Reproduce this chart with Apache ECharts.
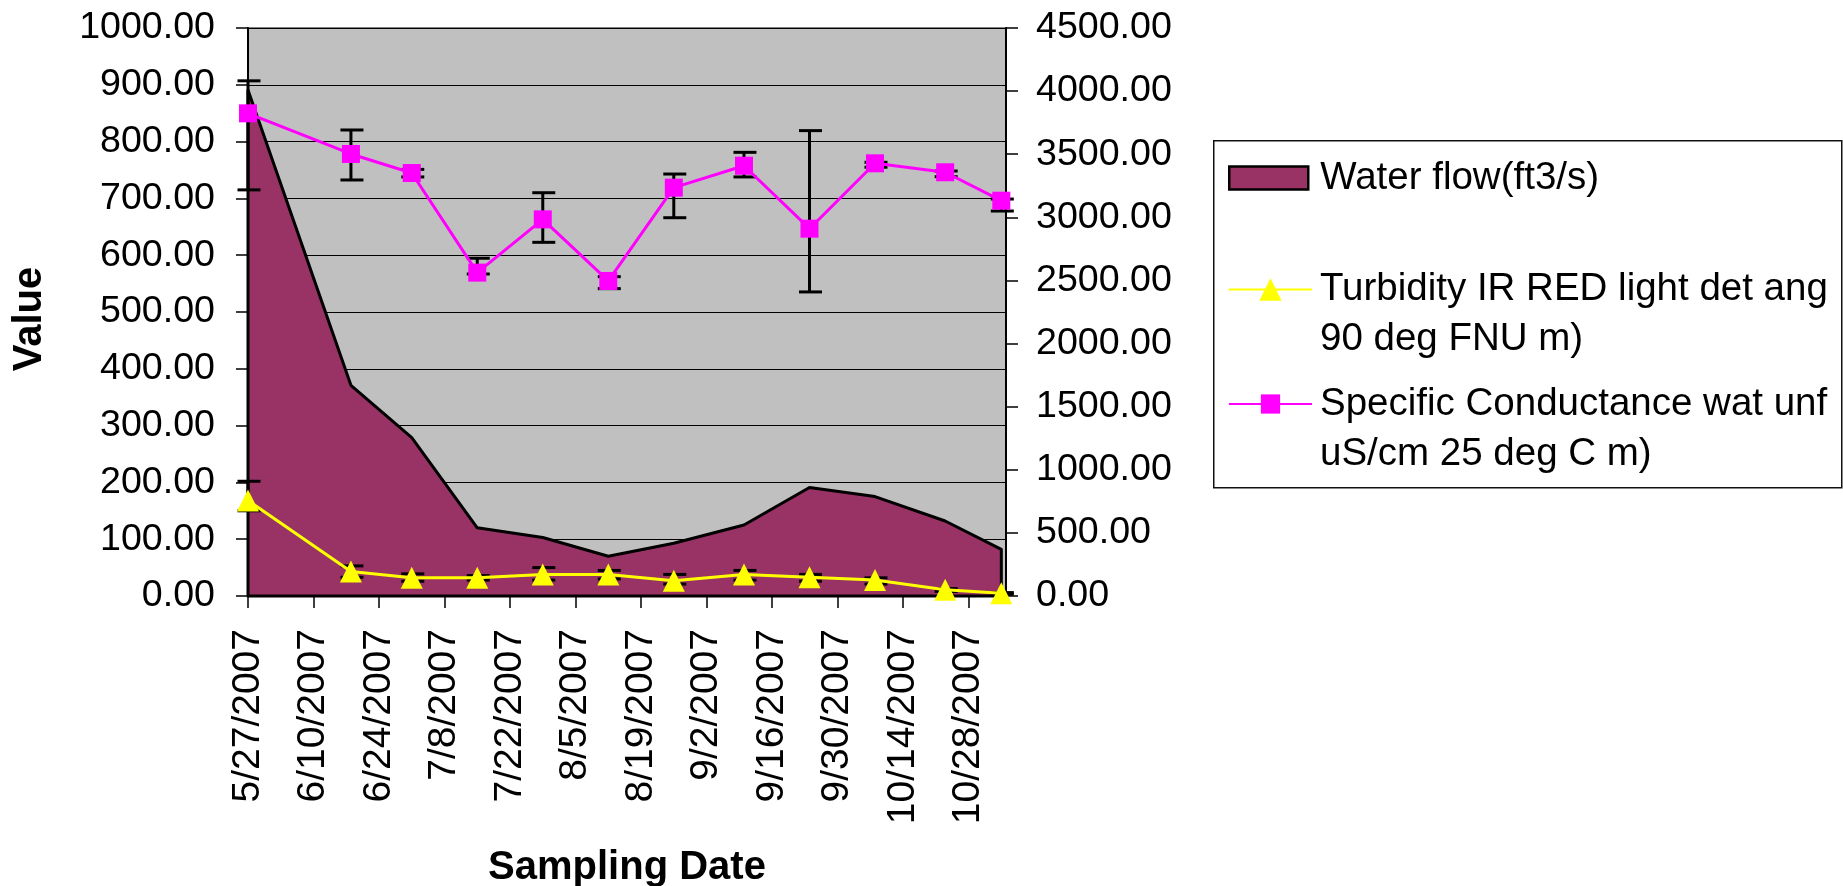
<!DOCTYPE html>
<html><head><meta charset="utf-8">
<script src="https://cdn.jsdelivr.net/npm/echarts@6/dist/echarts.min.js"></script>
<style>html,body{margin:0;padding:0;background:#fff}#c{width:1843px;height:886px}</style>
</head><body><div id="c"></div>
<script>
// ---- data ----
const sampleDates = ['2007-05-27','2007-06-18','2007-07-01','2007-07-15','2007-07-29','2007-08-12','2007-08-26','2007-09-10','2007-09-24','2007-10-08','2007-10-23','2007-11-04'];
const xTickLabels = ['5/27/2007','6/10/2007','6/24/2007','7/8/2007','7/22/2007','8/5/2007','8/19/2007','9/2/2007','9/16/2007','9/30/2007','10/14/2007','10/28/2007'];
const waterFlow      = [891, 371, 279, 120, 103, 70, 93, 125, 191, 175, 132, 82];
const waterFlowLow   = [715, null, null, null, null, null, null, null, null, null, null, null];
const waterFlowHigh  = [907, null, null, null, null, null, null, null, null, null, null, null];
const turbidity      = [168, 43, 32, 32, 38, 38, 27, 38, 33, 28, 11, 5];
const turbidityLow   = [150, 33, 26, 28, 28, 30, 21, 28, 26, 21, 8, 3];
const turbidityHigh  = [202, 53, 39, 36, 50, 45, 38, 45, 38, 32, 13, 6];
const conductance     = [3824, 3502, 3351, 2562, 2984, 2496, 3235, 3409, 2910, 3428, 3357, 3132];
const conductanceLow  = [null, 3296, 3320, 2551, 2802, 2435, 2997, 3320, 2409, 3397, 3322, 3050];
const conductanceHigh = [null, 3692, 3380, 2676, 3195, 2530, 3343, 3515, 3687, 3436, 3367, 3145];
const seriesNames = ['Water flow(ft3/s)', 'Turbidity IR RED light det ang 90 deg FNU m)', 'Specific Conductance wat unf uS/cm 25 deg C m)'];
const legendLines = [['Water flow(ft3/s)'], ['Turbidity IR RED light det ang', '90 deg FNU m)'], ['Specific Conductance wat unf', 'uS/cm 25 deg C m)']];
const axisTitles = {x: 'Sampling Date', y: 'Value'};

// ---- derived ----
const DAY = 864e5;
const t0 = Date.parse(sampleDates[0]);
const days = sampleDates.map(d => Math.round((Date.parse(d) - t0) / DAY));
const FONT = "'Liberation Sans', Arial, sans-serif";

function errData(low, high) {
  const out = [];
  low.forEach((l, i) => { if (l != null && high[i] != null) out.push([days[i], l, high[i]]); });
  return out;
}
function errSeries(low, high, yIdx) {
  return {
    type: 'custom', yAxisIndex: yIdx, z: 3, silent: true, clip: false,
    data: errData(low, high),
    renderItem: (params, api) => {
      const x = api.value(0);
      const lo = api.coord([x, api.value(1)]);
      const hi = api.coord([x, api.value(2)]);
      const cw = 11.5, off = 1;
      const st = {stroke: '#000', lineWidth: 3};
      return {type: 'group', children: [
        {type: 'line', shape: {x1: lo[0], y1: lo[1], x2: hi[0], y2: hi[1]}, style: st},
        {type: 'line', shape: {x1: lo[0] - cw + off, y1: lo[1], x2: lo[0] + cw + off, y2: lo[1]}, style: st},
        {type: 'line', shape: {x1: hi[0] - cw + off, y1: hi[1], x2: hi[0] + cw + off, y2: hi[1]}, style: st}
      ]};
    }
  };
}

const chart = echarts.init(document.getElementById('c'), null, {renderer: 'canvas'});
const legendText = pad => ({fontSize: 38.5, fontFamily: FONT, color: '#000', lineHeight: 50, padding: [0, 0, 0, pad]});

chart.setOption({
  animation: false,
  backgroundColor: '#fff',
  grid: {left: 248, right: 837, top: 28, bottom: 290, show: true, backgroundColor: '#c0c0c0', borderColor: '#808080', borderWidth: 2,
         outerBoundsMode: 'none', containLabel: false},
  graphic: [{type: 'rect', left: 1213, top: 140, z: 0, shape: {width: 628, height: 347}, style: {fill: '#fff', stroke: '#111', lineWidth: 1.5}}],
  legend: [
    {left: 1228, top: 153, padding: 0, itemWidth: 79, itemHeight: 23, data: [{name: seriesNames[0], icon: 'rect'}],
     itemStyle: {color: '#993366', borderColor: '#000', borderWidth: 2.5},
     formatter: () => legendLines[0].join('\n'), textStyle: legendText(7), selectedMode: false},
    {left: 1228, top: 214.5, padding: 0, itemWidth: 83, itemHeight: 28, data: [seriesNames[1]],
     formatter: () => '\n' + legendLines[1].join('\n'), textStyle: legendText(3), selectedMode: false},
    {left: 1228, top: 329, padding: 0, itemWidth: 83, itemHeight: 24, data: [seriesNames[2]],
     formatter: () => '\n' + legendLines[2].join('\n'), textStyle: legendText(3), selectedMode: false}
  ],
  xAxis: {
    type: 'value', min: 0, max: 162, interval: 14,
    name: axisTitles.x, nameLocation: 'middle', nameGap: 252,
    nameTextStyle: {fontSize: 40, fontWeight: 'bold', fontFamily: FONT, color: '#000'},
    axisLine: {show: true, onZero: false, lineStyle: {color: '#000', width: 2}},
    axisTick: {show: true, length: 12, lineStyle: {color: '#000', width: 1.5}},
    splitLine: {show: false},
    axisLabel: {rotate: 90, margin: 33, fontSize: 39, fontFamily: FONT, color: '#000', showMaxLabel: false,
      formatter: v => (v % 14 === 0 && xTickLabels[v / 14] !== undefined) ? xTickLabels[v / 14] : ''}
  },
  yAxis: [
    {type: 'value', min: 0, max: 1000, interval: 100, position: 'left',
     name: axisTitles.y, nameLocation: 'middle', nameGap: 198,
     nameTextStyle: {fontSize: 40, fontWeight: 'bold', fontFamily: FONT, color: '#000', padding: [0, 14, 0, 0]},
     axisLine: {show: true, lineStyle: {color: '#000', width: 2}},
     axisTick: {show: true, length: 12, lineStyle: {color: '#000', width: 1.5}},
     splitLine: {show: true, lineStyle: {color: '#000', width: 1}},
     axisLabel: {margin: 33, fontSize: 37.6, fontFamily: FONT, color: '#000', formatter: v => v.toFixed(2)}},
    {type: 'value', min: 0, max: 4500, interval: 500, position: 'right',
     axisLine: {show: true, lineStyle: {color: '#000', width: 2}},
     axisTick: {show: true, length: 12, lineStyle: {color: '#000', width: 1.5}},
     splitLine: {show: false},
     axisLabel: {margin: 30, fontSize: 37.6, fontFamily: FONT, color: '#000', formatter: v => v.toFixed(2)}}
  ],
  series: [
    {
      name: seriesNames[0], type: 'custom', yAxisIndex: 0, z: 2, silent: true,
      itemStyle: {color: '#993366'},
      data: days.map((d, i) => [d, waterFlow[i]]),
      renderItem: (params, api) => {
        if (params.dataIndex !== 0) return null;
        const n = days.length;
        const pts = [api.coord([days[0], 0])];
        for (let i = 0; i < n; i++) pts.push(api.coord([days[i], waterFlow[i]]));
        pts.push(api.coord([days[n - 1], 0]));
        return {type: 'polygon', shape: {points: pts}, style: {fill: '#993366', stroke: '#000', lineWidth: 3, lineJoin: 'round'}};
      }
    },
    errSeries(waterFlowLow, waterFlowHigh, 0),
    errSeries(turbidityLow, turbidityHigh, 0),
    errSeries(conductanceLow, conductanceHigh, 1),
    {
      name: seriesNames[1], type: 'line', yAxisIndex: 0, z: 4, clip: false,
      data: days.map((d, i) => [d, turbidity[i]]),
      symbol: 'triangle', symbolSize: [22, 22],
      lineStyle: {color: '#ffff00', width: 3}, itemStyle: {color: '#ffff00'}
    },
    {
      name: seriesNames[2], type: 'line', yAxisIndex: 1, z: 5, clip: false,
      data: days.map((d, i) => [d, conductance[i]]),
      symbol: 'rect', symbolSize: 18,
      lineStyle: {color: '#ff00ff', width: 3}, itemStyle: {color: '#ff00ff'}
    }
  ]
});
</script></body></html>
